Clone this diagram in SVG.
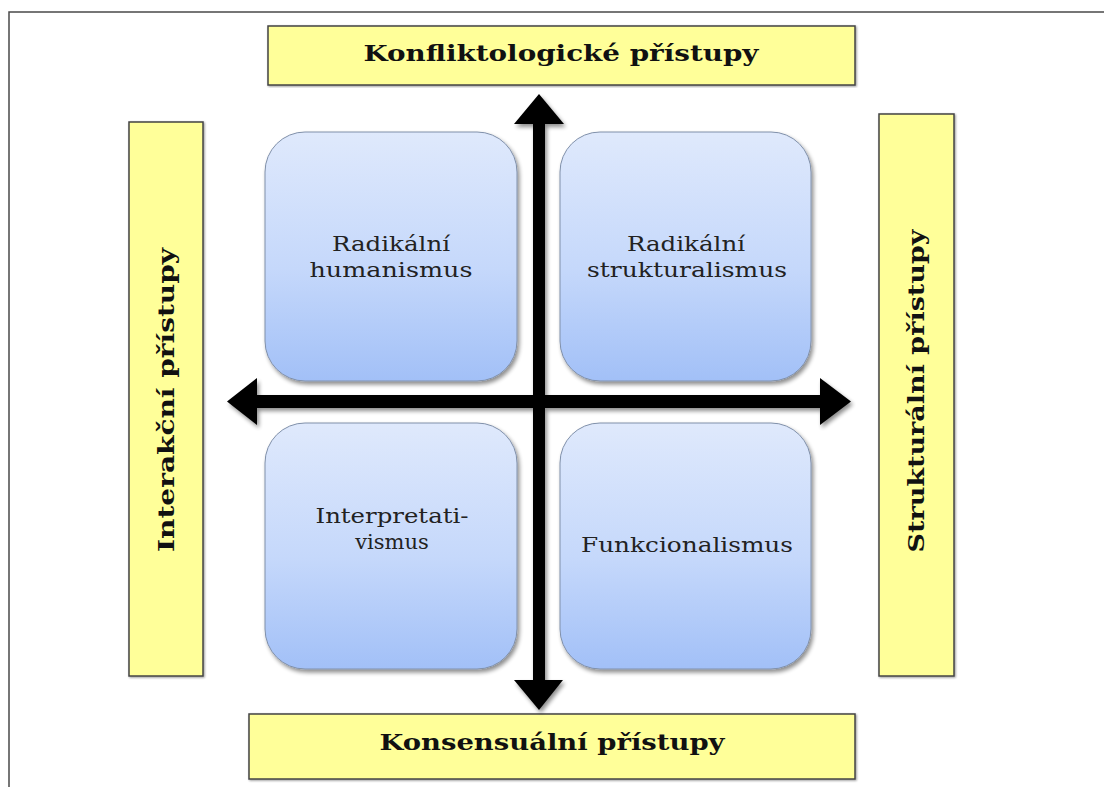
<svg xmlns="http://www.w3.org/2000/svg" width="1104" height="787" viewBox="0 0 1104 787">
  <defs>
    <linearGradient id="boxFill" x1="0" y1="0" x2="0" y2="1">
      <stop offset="0" stop-color="#dfe9fc"/>
      <stop offset="0.55" stop-color="#c5d8fb"/>
      <stop offset="1" stop-color="#a2c0f7"/>
    </linearGradient>
    <filter id="shadow" x="-10%" y="-10%" width="130%" height="130%">
      <feGaussianBlur in="SourceAlpha" stdDeviation="2"/>
      <feOffset dx="1.5" dy="2.5" result="b"/>
      <feComponentTransfer><feFuncA type="linear" slope="0.45"/></feComponentTransfer>
      <feMerge><feMergeNode/><feMergeNode in="SourceGraphic"/></feMerge>
    </filter>
    <filter id="smallShadow" x="-5%" y="-5%" width="110%" height="110%">
      <feGaussianBlur in="SourceAlpha" stdDeviation="1"/>
      <feOffset dx="1" dy="1" result="b"/>
      <feComponentTransfer><feFuncA type="linear" slope="0.4"/></feComponentTransfer>
      <feMerge><feMergeNode/><feMergeNode in="SourceGraphic"/></feMerge>
    </filter>
  </defs>
  <style>
    .frame { fill: none; stroke: #4a4a4a; stroke-width: 1.5; }
    .label { fill: #ffff99; stroke: #444; stroke-width: 1.5; filter: url(#smallShadow); }
    .quad { fill: url(#boxFill); stroke: #8090aa; stroke-width: 1; filter: url(#shadow); }
    .head { font-family: "DejaVu Serif", "Liberation Serif", serif; font-weight: bold; font-size: 22px; fill: #111; text-anchor: middle; }
    .body { font-family: "DejaVu Serif", "Liberation Serif", serif; font-size: 21px; fill: #222; text-anchor: middle; }
    .arrow { fill: #000; filter: url(#shadow); }
  </style>

  <rect x="0" y="0" width="1104" height="787" fill="#fff"/>
  <rect class="frame" x="9" y="12" width="1110" height="800"/>

  <!-- axis labels -->
  <g id="konfliktologicke">
    <rect class="label" x="268" y="26" width="587" height="59"/>
    <text class="head" x="561" y="61" textLength="395" lengthAdjust="spacingAndGlyphs">Konfliktologické přístupy</text>
  </g>
  <g id="konsensualni">
    <rect class="label" x="249" y="714" width="606" height="65"/>
    <text class="head" x="552" y="750" textLength="345" lengthAdjust="spacingAndGlyphs">Konsensuální přístupy</text>
  </g>
  <g id="interakcni">
    <rect class="label" x="129" y="122" width="74" height="554"/>
    <text class="head" transform="translate(174,400) rotate(-90)" x="0" y="0" textLength="304" lengthAdjust="spacingAndGlyphs">Interakční přístupy</text>
  </g>
  <g id="strukturalni">
    <rect class="label" x="879" y="114" width="75" height="562"/>
    <text class="head" transform="translate(924,391) rotate(-90)" x="0" y="0" textLength="323" lengthAdjust="spacingAndGlyphs">Strukturální přístupy</text>
  </g>

  <!-- quadrants -->
  <g id="radikalni-humanismus">
    <rect class="quad" x="265" y="132" width="252" height="249" rx="40"/>
    <text class="body" x="391" y="251" textLength="118" lengthAdjust="spacingAndGlyphs">Radikální</text>
    <text class="body" x="391" y="277" textLength="163" lengthAdjust="spacingAndGlyphs">humanismus</text>
  </g>
  <g id="radikalni-strukturalismus">
    <rect class="quad" x="560" y="132" width="251" height="249" rx="40"/>
    <text class="body" x="686" y="251" textLength="118" lengthAdjust="spacingAndGlyphs">Radikální</text>
    <text class="body" x="687" y="277" textLength="200" lengthAdjust="spacingAndGlyphs">strukturalismus</text>
  </g>
  <g id="interpretativismus">
    <rect class="quad" x="265" y="423" width="252" height="246" rx="40"/>
    <text class="body" x="392" y="523" textLength="153" lengthAdjust="spacingAndGlyphs">Interpretati-</text>
    <text class="body" x="392" y="549">vismus</text>
  </g>
  <g id="funkcionalismus">
    <rect class="quad" x="560" y="423" width="251" height="246" rx="40"/>
    <text class="body" x="687" y="552" textLength="212" lengthAdjust="spacingAndGlyphs">Funkcionalismus</text>
  </g>

  <!-- axes -->
  <g id="connectors">
    <path class="arrow" d="M539,94 L564,124 L545,124 L545,395 L820,395 L820,378 L851,401.5 L820,425 L820,408 L545,408 L545,680 L563,680 L539,710 L514,680 L533,680 L533,408 L257,408 L257,425 L227,401.5 L257,378 L257,395 L533,395 L533,124 L514,124 Z"/>
  </g>
</svg>
